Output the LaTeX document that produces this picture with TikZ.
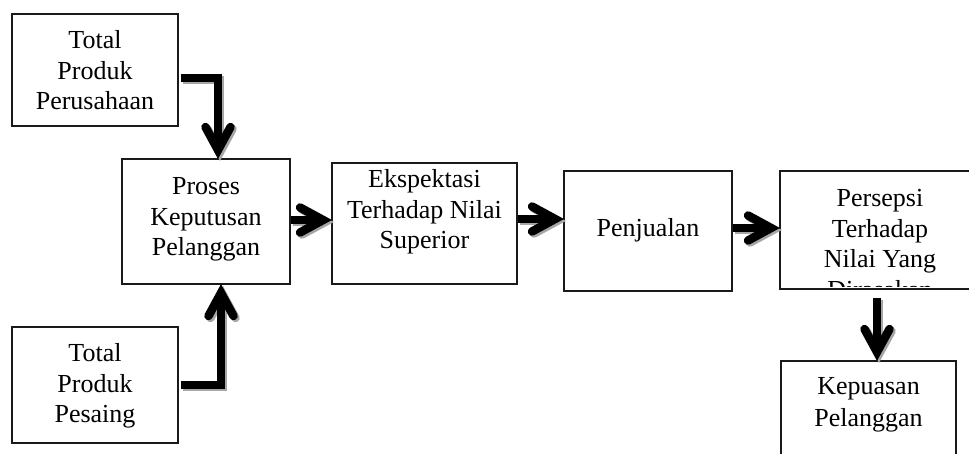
\documentclass[tikz,border=0pt]{standalone}
\usepackage{fontspec}
\setmainfont{Liberation Serif}
\usetikzlibrary{calc}
\definecolor{shadowgray}{HTML}{A6A6A6}
\definecolor{boxline}{HTML}{1A1A1A}
\newcommand{\fl}{\rule{0pt}{18pt}}
\newcommand{\shadowarrow}[2]{%
  \draw[shaftline, shadowgray, transform canvas={xshift=2pt,yshift=-2pt}] #1;
  \draw[chevline, shadowgray, transform canvas={xshift=2pt,yshift=-2pt}] #2;
  \draw[shaftline] #1;
  \draw[chevline] #2;}
\begin{document}
\begin{tikzpicture}[x=1pt,y=-1pt,
  box/.style={draw=boxline, line width=1.1pt, rectangle, inner sep=0pt},
  txt/.style={font=\fontsize{26}{30.5}\selectfont, align=center, inner sep=0pt, anchor=north},
  shaftline/.style={line width=8.5pt, line cap=butt, line join=miter},
  chevline/.style={line width=8.5pt, line cap=round, line join=miter, miter limit=10}]
\clip (0,0) rectangle (969,454);
\fill[white] (0,0) rectangle (969,454);

% boxes
\node[box, minimum width=166pt, minimum height=112pt] (b1) at (95,70) {};
\node[box, minimum width=168pt, minimum height=125pt] (b2) at (206,221.5) {};
\node[box, minimum width=166pt, minimum height=116pt] (b3) at (95,385) {};
\node[box, minimum width=185pt, minimum height=121pt] (b4) at (424.5,223.5) {};
\node[box, minimum width=168pt, minimum height=120pt] (b5) at (648,231) {};
\node[box, minimum width=200pt, minimum height=118pt] (b6) at (880,230) {};
\node[box, minimum width=175pt, minimum height=120pt] (b7) at (868.5,421) {};

% texts
\node[txt] (t1) at ($(b1.north)+(0,17.3)$) {\fl Total\\Produk\\Perusahaan};
\node[txt] (t2) at ($(b2.north)+(0,18)$) {\fl Proses\\Keputusan\\Pelanggan};
\node[txt] (t3) at ($(b3.north)+(0,17)$) {\fl Total\\Produk\\Pesaing};
\node[txt] (t4) at ($(b4.north)+(0,7)$) {\fl Ekspektasi\\Terhadap Nilai\\Superior};
\node[txt] (t5) at ($(b5.north)+(0,48)$) {\fl Penjualan};
\begin{scope}
  \clip ($(b6.north west)+(1,1)$) rectangle ($(b6.south east)+(-1,-3)$);
  \node[txt] (t6) at ($(b6.north)+(0,18)$) {\fl Persepsi\\Terhadap\\Nilai Yang\\Dirasakan};
\end{scope}
\node[txt, font=\fontsize{26}{32}\selectfont] (t7) at ($(b7.north)+(0,16)$) {\fl Kepuasan\\Pelanggan};

% connector coordinates
\coordinate (a1s) at ($(b1.east)+(2,8)$);
\coordinate (a1t) at ($(b2.north)+(12,-8.4)$);
\coordinate (a2s) at ($(b3.east)+(2,0)$);
\coordinate (a2t) at ($(b2.south)+(15,8.4)$);
\coordinate (a3s) at ($(b2.east)+(0,-1.5)$);
\coordinate (a3t) at ($(b4.west|-a3s)+(-8.4,0)$);
\coordinate (a4s) at ($(b4.east)+(0,-4.5)$);
\coordinate (a4t) at ($(b5.west|-a4s)+(-8.4,0)$);
\coordinate (a5s) at ($(b5.east)+(0,-3)$);
\coordinate (a5t) at ($(b6.west|-a5s)+(-8.4,0)$);
\coordinate (a6s) at ($(b6.south)+(-3,8)$);
\coordinate (a6t) at ($(a6s|-b7.north)+(0,-8.4)$);

% connectors
\shadowarrow{(a1s) -| (a1t)}{(a1t) ++(-12.5,-23) -- ++(12.5,23) -- ++(12.5,-23)}
\shadowarrow{(a2s) -| (a2t)}{(a2t) ++(-12.5,23) -- ++(12.5,-23) -- ++(12.5,23)}
\shadowarrow{(a3s) -- (a3t)}{(a3t) ++(-23,-12.5) -- ++(23,12.5) -- ++(-23,12.5)}
\shadowarrow{(a4s) -- (a4t)}{(a4t) ++(-23,-12.5) -- ++(23,12.5) -- ++(-23,12.5)}
\shadowarrow{(a5s) -- (a5t)}{(a5t) ++(-23,-12.5) -- ++(23,12.5) -- ++(-23,12.5)}
\shadowarrow{(a6s) -- (a6t)}{(a6t) ++(-12.5,-23) -- ++(12.5,23) -- ++(12.5,-23)}
\end{tikzpicture}
\end{document}
